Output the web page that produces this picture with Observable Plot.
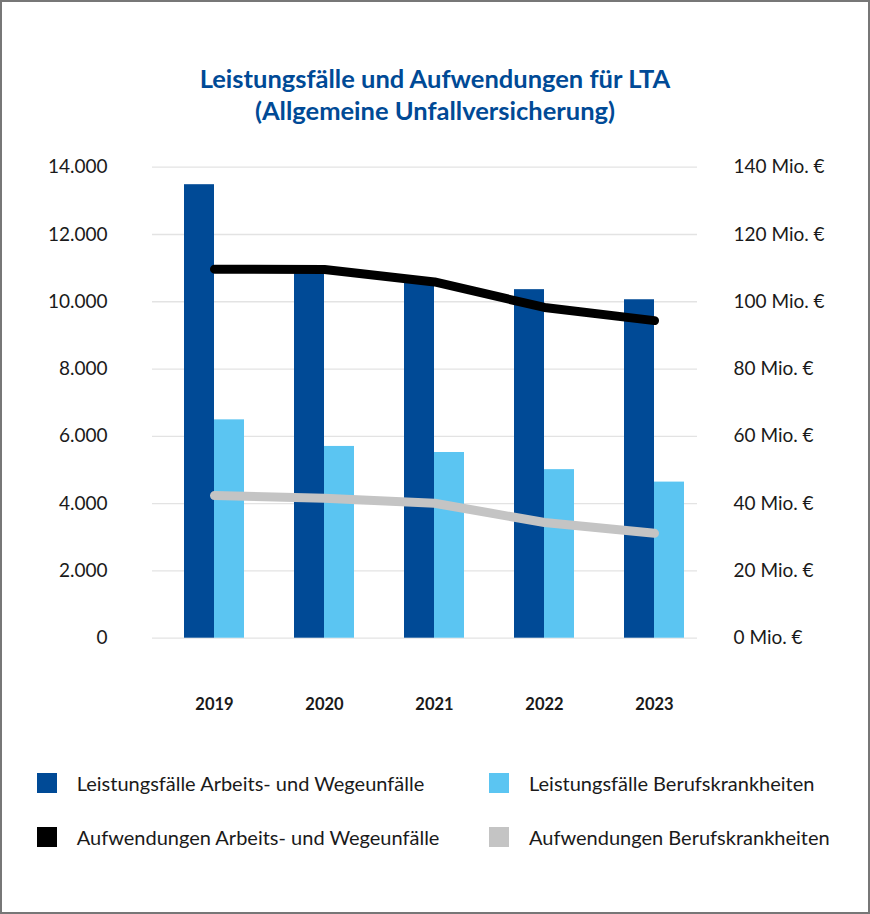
<!DOCTYPE html>
<html><head><meta charset="utf-8">
<script src="https://cdn.jsdelivr.net/npm/d3@7"></script>
<script src="https://cdn.jsdelivr.net/npm/@observablehq/plot@0.6"></script>
<style>
body{margin:0;background:#fff;}
#wrap{position:relative;width:870px;height:914px;outline:2px solid #777;outline-offset:-2px;font-family:Lato, sans-serif;overflow:hidden;background:#fff}
#title{position:absolute;left:0;top:62.3px;width:870px;text-align:center;color:#004a96;font-weight:700;font-size:25.5px;line-height:32px}
#chart{position:absolute;left:0;top:140px}
.leg{position:absolute;font-size:20px;color:#1a1a1a;line-height:20px;display:flex;align-items:center;white-space:nowrap}
.sw{width:20px;height:20px;margin-right:19.7px;flex:none}
</style></head>
<body>
<div id="wrap">
  <div id="title">Leistungsfälle und Aufwendungen für LTA<br>(Allgemeine Unfallversicherung)</div>
  <div id="chart"></div>
  <div id="legend"></div>
</div>
<script>
const years = ["2019", "2020", "2021", "2022", "2023"];
const faelleArbeit = [13480, 10950, 10560, 10360, 10060];
const faelleBeruf = [6490, 5700, 5520, 5010, 4640];
const aufwArbeit = [109.7, 109.6, 105.9, 98.3, 94.4];   // Mio. €
const aufwBeruf = [42.4, 41.6, 40.1, 34.4, 31.2];      // Mio. €
const leftTicks = [0, 2000, 4000, 6000, 8000, 10000, 12000, 14000];
const rightTicks = [0, 20, 40, 60, 80, 100, 120, 140];
const seriesNames = [
  "Leistungsfälle Arbeits- und Wegeunfälle",
  "Leistungsfälle Berufskrankheiten",
  "Aufwendungen Arbeits- und Wegeunfälle",
  "Aufwendungen Berufskrankheiten"
];
const seriesColors = ["#004a96", "#5bc5f2", "#000000", "#c4c4c4"];

const de = d3.formatLocale({decimal: ",", thousands: ".", grouping: [3], currency: ["", " €"]});
const fmt = de.format(",");
const ratio = 14000 / 140; // left units per Mio. €

const barsA = years.map((y, i) => ({year: y, value: faelleArbeit[i]}));
const barsB = years.map((y, i) => ({year: y, value: faelleBeruf[i]}));
const lineA = years.map((y, i) => ({year: y, value: aufwArbeit[i] * ratio}));
const lineB = years.map((y, i) => ({year: y, value: aufwBeruf[i] * ratio}));

const chart = Plot.plot({
  width: 870,
  height: 600,
  marginTop: 26.7,
  marginBottom: 102.3,
  marginLeft: 152,
  marginRight: 173,
  style: {fontFamily: "Lato, sans-serif", background: "transparent", color: "#1a1a1a"},
  x: {domain: years, paddingInner: 50 / 110, paddingOuter: 0.2045, align: 0.711, label: null},
  y: {domain: [0, 14000], label: null},
  marks: [
    Plot.gridY(leftTicks, {stroke: "#e3e3e3", strokeOpacity: 1, strokeWidth: 1.3}),
    Plot.barY(barsA, {x: "year", y: "value", fill: seriesColors[0], insetRight: 30}),
    Plot.barY(barsB, {x: "year", y: "value", fill: seriesColors[1], insetLeft: 30}),
    Plot.lineY(lineB, {x: "year", y: "value", stroke: seriesColors[3], strokeWidth: 9, strokeLinecap: "round", strokeLinejoin: "round"}),
    Plot.lineY(lineA, {x: "year", y: "value", stroke: seriesColors[2], strokeWidth: 9, strokeLinecap: "round", strokeLinejoin: "round"}),
    Plot.axisY({anchor: "left", ticks: leftTicks, tickFormat: fmt, tickSize: 0, tickPadding: 45, fontSize: 19, label: null}),
    Plot.axisY({anchor: "right", ticks: leftTicks, tickFormat: d => `${d / ratio} Mio. €`, tickSize: 0, tickPadding: 36, fontSize: 19, label: null}),
    Plot.axisX({tickSize: 0, tickPadding: 60, fontSize: 16.5, fontWeight: "bold", label: null})
  ]
});
document.getElementById("chart").appendChild(chart);

const legendPos = [
  {left: 37, top: 772.7}, {left: 489.3, top: 772.7},
  {left: 37, top: 826.7}, {left: 489.3, top: 826.7}
];
const legend = document.getElementById("legend");
seriesNames.forEach((name, i) => {
  const el = document.createElement("div");
  el.className = "leg";
  el.style.left = legendPos[i].left + "px";
  el.style.top = legendPos[i].top + "px";
  el.innerHTML = `<span class="sw" style="background:${seriesColors[i]}"></span><span>${name}</span>`;
  legend.appendChild(el);
});
</script>
</body></html>
